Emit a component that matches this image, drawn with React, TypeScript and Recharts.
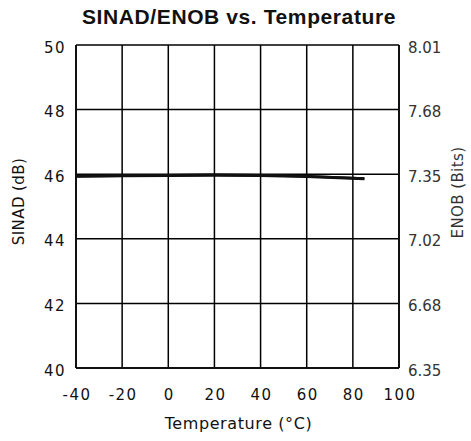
import { LineChart, Line, XAxis, YAxis, CartesianGrid } from "recharts";

// values
const temps = [-40, -20, 0, 20, 40, 60, 85];
const sinadDb = [45.94, 45.95, 45.96, 45.97, 45.96, 45.93, 45.86];
const enobBits = [7.336, 7.338, 7.341, 7.343, 7.341, 7.335, 7.324];

const tempTicks = [-40, -20, 0, 20, 40, 60, 80, 100];
const sinadTicks = [40, 42, 44, 46, 48, 50];
const enobTicks = [6.35, 6.682, 7.014, 7.346, 7.678, 8.01];
const enobLabels = ["6.35", "6.68", "7.02", "7.35", "7.68", "8.01"];

const data = temps.map((t, i) => ({ temp: t, sinad: sinadDb[i], enob: enobBits[i] }));

const FONT = "'DejaVu Sans', sans-serif";
const INK = "#111";

const XTick = ({ x, y, payload }: any) => (
  <text x={x} y={y} dx={1} dy={30} textAnchor="middle" fontFamily={FONT} fontSize={15}
    letterSpacing={1.5} fill={INK}>
    {payload.value}
  </text>
);

const LeftTick = ({ x, y, payload }: any) => (
  <text x={x} y={y} dx={-8} dy={7.5} textAnchor="end" fontFamily={FONT} fontSize={15}
    letterSpacing={1.5} fill={INK}>
    {payload.value}
  </text>
);

const RightTick = ({ x, y, payload, index }: any) => (
  <text x={x} y={y} dx={7} dy={7.5} textAnchor="start" fontFamily={FONT} fontSize={15}
    fill="#333">
    {enobLabels[index] ?? payload.value}
  </text>
);

export default function App() {
  return (
    <div style={{ position: "absolute", left: 0, top: 0, width: 471, height: 441, background: "#fff" }}>
      <div style={{
        position: "absolute", left: 0, top: 5, width: 478, textAlign: "center", letterSpacing: 0.6,
        fontFamily: "'Liberation Sans', Arial, sans-serif", fontWeight: "bold", fontSize: 21, color: "#111",
      }}>
        SINAD/ENOB vs. Temperature
      </div>
      <LineChart width={471} height={441} data={data}
        margin={{ top: 45, right: 0, bottom: 0, left: 0 }}>
        <CartesianGrid yAxisId="left" stroke="#000" strokeWidth={1.5}
          horizontalValues={sinadTicks} verticalValues={tempTicks} />
        <XAxis dataKey="temp" type="number" domain={[-40, 100]} ticks={tempTicks}
          height={73} tickSize={0} tickLine={false} interval={0}
          axisLine={{ stroke: INK, strokeWidth: 2 }} tick={<XTick />}
          label={(p: any) => (
            <text x={p.viewBox.x + p.viewBox.width / 2 + 1} y={p.viewBox.y + 61} textAnchor="middle"
              fontFamily={FONT} fontSize={16} letterSpacing={0.6} fill={INK}>
              Temperature (°C)
            </text>
          )} />
        <YAxis yAxisId="left" domain={[40, 50]} ticks={sinadTicks} width={76}
          tickSize={0} tickLine={false} interval={0}
          axisLine={{ stroke: INK, strokeWidth: 2 }} tick={<LeftTick />}
          label={(p: any) => {
            const cx = p.viewBox.x + 24;
            const cy = p.viewBox.y + p.viewBox.height / 2 - 5;
            return (
              <text x={cx} y={cy} transform={`rotate(-90 ${cx} ${cy})`} textAnchor="middle"
                fontFamily={FONT} fontSize={15} letterSpacing={0.4} fill={INK}>
                SINAD (dB)
              </text>
            );
          }} />
        <YAxis yAxisId="right" orientation="right" domain={[6.35, 8.01]} ticks={enobTicks}
          width={72} tickSize={0} tickLine={false} interval={0}
          axisLine={{ stroke: INK, strokeWidth: 2 }} tick={<RightTick />}
          label={(p: any) => {
            const cx = p.viewBox.x + 64;
            const cy = p.viewBox.y + p.viewBox.height / 2 - 14;
            return (
              <text x={cx} y={cy} transform={`rotate(-90 ${cx} ${cy})`} textAnchor="middle"
                fontFamily={FONT} fontSize={15} letterSpacing={0.4} fill="#333">
                ENOB (Bits)
              </text>
            );
          }} />
        <Line yAxisId="left" dataKey="sinad" stroke={INK} strokeWidth={3} dot={false}
          isAnimationActive={false} />
        <Line yAxisId="right" dataKey="enob" stroke={INK} strokeWidth={2.5} dot={false}
          isAnimationActive={false} />
      </LineChart>
    </div>
  );
}
